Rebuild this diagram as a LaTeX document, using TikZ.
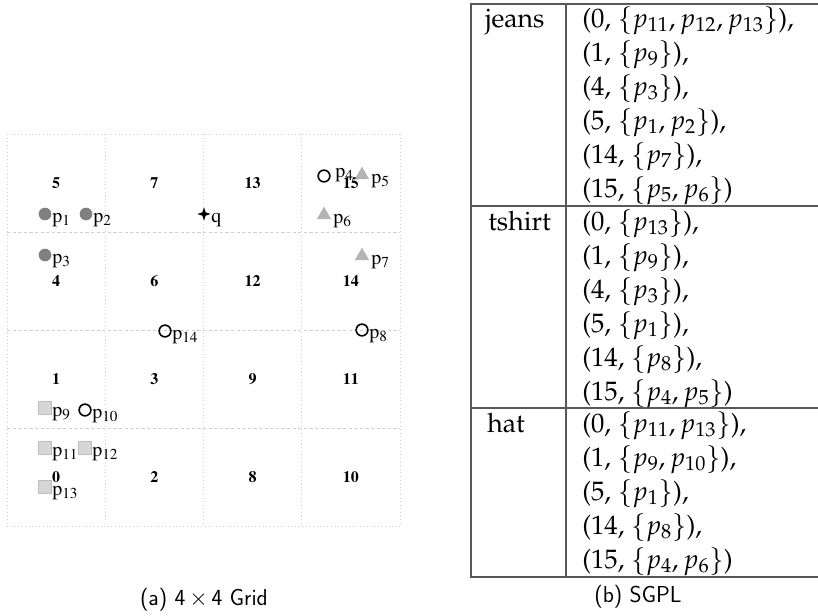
\documentclass[tikz,border=0pt]{standalone}
\usepackage[T1]{fontenc}
\usepackage{mathpazo}
\usepackage{tikz}
\usetikzlibrary{positioning, shapes.geometric, calc}

\definecolor{gridgray}{HTML}{CFCFCF}
\definecolor{dotgray}{HTML}{808080}
\definecolor{trigray}{HTML}{B4B4B4}
\definecolor{sqfill}{HTML}{D6D6D6}
\definecolor{sqdraw}{HTML}{BEBEBE}
\definecolor{tabline}{HTML}{585858}

\begin{document}
\begin{tikzpicture}[
        x=0.75pt, y=-0.75pt,
        gridline/.style={draw=gridgray, line width=0.7pt, dotted},
        gridmid/.style={draw=gridgray, line width=0.7pt, dash pattern=on 2.4pt off 1.8pt},
        cellnum/.style={font=\fontfamily{ptm}\fontseries{b}\fontsize{12}{14}\selectfont},
        ptlabel/.style={font=\fontfamily{ptm}\fontsize{15}{17}\selectfont, inner sep=0pt, anchor=base west},
        fullpt/.style={circle, fill=dotgray, inner sep=0pt, minimum size=9.5pt},
        openpt/.style={circle, draw=black, line width=1.2pt, inner sep=0pt, minimum size=8.8pt},
        tript/.style={regular polygon, regular polygon sides=3, fill=trigray, inner sep=0pt, minimum size=12.5pt},
        sqpt/.style={rectangle, fill=sqfill, draw=sqdraw, line width=0.6pt, inner sep=0pt, minimum size=9.8pt},
        qstar/.style={star, star points=4, star point ratio=2.8, fill=black, inner sep=0pt, minimum size=10pt},
        tabrule/.style={draw=tabline, line width=1.1pt},
        tabtext/.style={font=\fontsize{20}{24}\selectfont, inner sep=0pt, anchor=base west},
        capt/.style={font=\fontencoding{OT1}\fontfamily{cmss}\fontseries{m}\fontshape{n}\fontsize{17}{20}\selectfont}
    ]
        \useasboundingbox (0,0) rectangle (818,615);

        % Grid
        \foreach \i in {0,...,4}
            \draw[gridline] ({7+98.25*\i},134) -- ({7+98.25*\i},526);
        \draw[gridline] (7,134) -- (400,134);
        \draw[gridline] (7,526) -- (400,526);
        \foreach \j in {1,2,3}
            \draw[gridmid] (7,{134+98*\j}) -- (400,{134+98*\j});

        % Cell numbers
        \foreach \n/\cx/\cy in {5/0/0, 7/1/0, 13/2/0, 15/3/0,
                                4/0/1, 6/1/1, 12/2/1, 14/3/1,
                                1/0/2, 3/1/2, 9/2/2, 11/3/2,
                                0/0/3, 2/1/3, 8/2/3, 10/3/3}
            \node[cellnum] (cell\n) at ({56+98.25*\cx},{183+98*\cy}) {\n};

        % Objects
        \node[fullpt] (p1) at (45,214) {};
        \node[fullpt] (p2) at (86,214) {};
        \node[fullpt] (p3) at (45,255) {};
        \node[qstar] (q) at (204,214) {};
        \node[openpt] (p4) at (324,176) {};
        \node[tript] (p5) at (362,175) {};
        \node[tript] (p6) at (324,215) {};
        \node[tript] (p7) at (362,256) {};
        \node[openpt] (p8) at (362,330) {};
        \node[sqpt] (p9) at (45,408) {};
        \node[openpt] (p10) at (85,410) {};
        \node[sqpt] (p11) at (45,448) {};
        \node[sqpt] (p12) at (85,448) {};
        \node[sqpt] (p13) at (45,487) {};
        \node[openpt] (p14) at (165,331) {};

        % Object labels
        \foreach \i in {1,2,3,8,9,10,11,12,13,14}
            \node[ptlabel] (p\i-lab) at ($(p\i)+(7,8)$) {p\textsubscript{\i}};
        \foreach \i in {5,6,7}
            \node[ptlabel] (p\i-lab) at ($(p\i)+(9,8)$) {p\textsubscript{\i}};
        \node[ptlabel] (p4-lab) at ($(p4)+(11,1)$) {p\textsubscript{4}};
        \node[ptlabel] (q-lab) at ($(q)+(7,8)$) {q};

        % SGPL table
        \draw[tabrule] (818,4) -- (471,4) -- (471,577) -- (818,577);
        \draw[tabrule] (566,4) -- (566,577);
        \draw[tabrule] (471,206) -- (818,206);
        \draw[tabrule] (471,408) -- (818,408);

        \node[tabtext] (jeans) at (485,27) {jeans};
        \node[tabtext] (tshirt) at (488,230) {tshirt};
        \node[tabtext] (hat) at (487,432) {hat};

        \foreach \entry [count=\k from 0] in {
                {(0, $\{p_{11}, p_{12}, p_{13}\}$),}, {(1, $\{p_9\}$),}, {(4, $\{p_3\}$),},
                {(5, $\{p_1, p_2\}$),}, {(14, $\{p_7\}$),}, {(15, $\{p_5, p_6\}$)}}
            \node[tabtext] (jeans-\k) at (582,{27+34*\k}) {\entry};
        \foreach \entry [count=\k from 0] in {
                {(0, $\{p_{13}\}$),}, {(1, $\{p_9\}$),}, {(4, $\{p_3\}$),},
                {(5, $\{p_1\}$),}, {(14, $\{p_8\}$),}, {(15, $\{p_4, p_5\}$)}}
            \node[tabtext] (tshirt-\k) at (582,{230+34*\k}) {\entry};
        \foreach \entry [count=\k from 0] in {
                {(0, $\{p_{11}, p_{13}\}$),}, {(1, $\{p_9, p_{10}\}$),},
                {(5, $\{p_1\}$),}, {(14, $\{p_8\}$),}, {(15, $\{p_4, p_6\}$)}}
            \node[tabtext] (hat-\k) at (582,{432+34*\k}) {\entry};

        % Captions
        \node[capt] (capa) at (204,600) {(a) 4\,$\times$\,4 Grid};
        \node[capt] (capb) at (638,597) {(b) SGPL};
    \end{tikzpicture}
\end{document}
